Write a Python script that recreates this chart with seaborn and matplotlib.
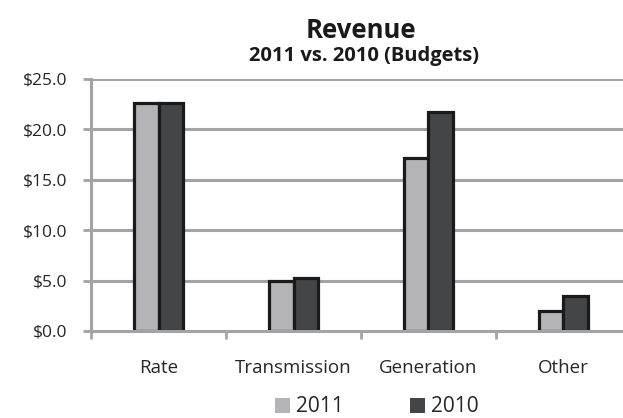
import pandas as pd
import matplotlib.pyplot as plt
import seaborn as sns

categories = ["Rate", "Transmission", "Generation", "Other"]
years = ["2011", "2010"]
values_2011 = [22.6, 5.0, 17.2, 2.0]
values_2010 = [22.6, 5.3, 21.7, 3.5]
yticks = [0, 5, 10, 15, 20, 25]

df = pd.DataFrame({
    "category": categories * 2,
    "year": [years[0]] * 4 + [years[1]] * 4,
    "value": values_2011 + values_2010,
})

sns.set_theme(style="white")
plt.rcParams['font.family'] = ['Open Sans', 'DejaVu Sans']

fig = plt.figure(figsize=(6.23, 4.18), dpi=100)
ax = fig.add_axes([91 / 623, 87 / 418, 540 / 623, 252 / 418])

grid_col = "#a3a3a7"
ax.set_axisbelow(True)
for y in yticks[1:]:
    ax.axhline(y, color=grid_col, lw=2.2, zorder=0)

sns.barplot(data=df, x="category", y="value", hue="year", hue_order=years,
            palette=["#b3b4b8", "#444546"], edgecolor="#1a1a1a", linewidth=2.3,
            width=0.37, ax=ax, zorder=3)

ax.set_xlim(-0.5, 3.5)
ax.set_ylim(0, 25)
ax.set_yticks(yticks)
ax.set_yticklabels([f"${v:.1f}" for v in yticks], fontsize=12.5)
ax.set_xlabel("")
ax.set_ylabel("")

# category boundary ticks
ax.set_xticks([-0.5, 0.5, 1.5, 2.5], minor=True)
ax.tick_params(axis="x", which="minor", length=6, width=2, color=grid_col, direction="out", bottom=True)
ax.tick_params(axis="x", which="major", length=0, pad=20, labelsize=13.5)
ax.tick_params(axis="y", length=6, width=2, color=grid_col, left=True, pad=11)

for side in ["top", "right"]:
    ax.spines[side].set_visible(False)
for side in ["left", "bottom"]:
    ax.spines[side].set_color(grid_col)
    ax.spines[side].set_linewidth(2.2)
ax.spines["bottom"].set_zorder(5)

fig.text(361 / 623, 1 - 30 / 418, "Revenue", ha="center", va="center",
         fontsize=18.5, fontweight="bold", color="#1a1a1a")
fig.text(364 / 623, 1 - 56 / 418, "2011 vs. 2010 (Budgets)", ha="center", va="center",
         fontsize=14.5, fontweight="bold", color="#1a1a1a")

handles, labels = ax.get_legend_handles_labels()
ax.legend(handles, labels, loc="center", bbox_to_anchor=(377 / 623, 1 - 407 / 418),
          bbox_transform=fig.transFigure, ncol=2, frameon=False, fontsize=15,
          handlelength=0.7, handleheight=0.7, handletextpad=0.3, columnspacing=3.2)
for h in ax.get_legend().legend_handles:
    h.set_linewidth(0)

fig.savefig("out.png", dpi=100)
plt.close()
